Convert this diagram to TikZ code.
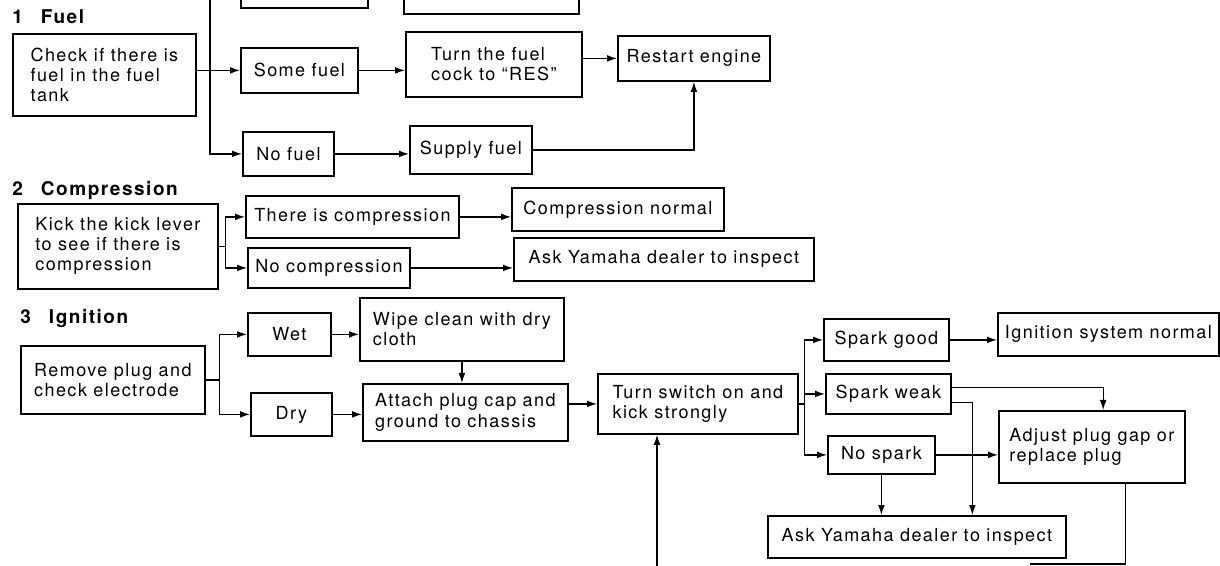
\documentclass[tikz,border=0pt]{standalone}
\usepackage{fontspec}
\setmainfont{TeX Gyre Heros}[LetterSpace=8]
\usetikzlibrary{arrows.meta, positioning, calc}

\begin{document}
\begin{tikzpicture}[x=0.5pt, y=-0.5pt,
    every node/.style={font=\fontsize{9}{10}\selectfont},
    box/.style={draw, line width=0.9pt, align=left, anchor=north west, inner sep=2pt},
    head/.style={anchor=west, inner sep=0pt, font=\fontsize{9.5}{11}\selectfont\bfseries},
    arr/.style={line width=0.65pt, -{Latex[length=5pt, width=3.4pt]}},
    wire/.style={line width=0.65pt}]

    \clip (0,0) rectangle (1220,566);
    \useasboundingbox (0,0) rectangle (1220,566);

    % 1 Fuel
    \node[head] (fuelhd) at (12,17) {1\hspace{9pt}Fuel};
    \node[box, minimum width=63.5pt, minimum height=25pt, anchor=south west] (fueltopA) at (240,9) {};
    \node[box, minimum width=87.5pt, minimum height=30pt, anchor=south west] (fueltopB) at (403,15) {};
    \node[box, minimum width=91.5pt, minimum height=41pt] (fuelchk) at (12,33) {Check if there is\\fuel in the fuel\\tank};
    \node[box, minimum width=58.5pt, minimum height=22.5pt] (somefuel) at (240,47) {Some fuel};
    \node[box, minimum width=45.5pt, minimum height=22pt] (nofuel) at (242,131) {No fuel};
    \node[box, minimum width=88pt, minimum height=32.5pt] (rescock) at (405,31) {Turn the fuel\\cock to ``RES''};
    \node[box, minimum width=76pt, minimum height=22.5pt] (restart) at (617,35) {Restart engine};
    \node[box, minimum width=61pt, minimum height=24pt] (supply) at (409,125) {Supply fuel};

    \coordinate (fueljn) at (210,-10);
    \draw[arr] (fuelchk.east |- somefuel) -- (somefuel.west);
    \draw[arr] (fueljn) |- (nofuel.west);
    \draw[arr] (somefuel.east) -- (somefuel.east -| rescock.west);
    \draw[arr] (rescock.east |- restart) -- (restart.west);
    \draw[arr] (nofuel.east) -- (nofuel.east -| supply.west);
    \draw[arr] (supply.east) -| (restart.south);

    % 2 Compression
    \node[head] (comphd) at (12,190) {2\hspace{9pt}Compression};
    \node[box, minimum width=100pt, minimum height=42.5pt] (kick) at (17,203) {Kick the kick lever\\to see if there is\\compression};
    \node[box, minimum width=106.5pt, minimum height=21pt] (comp) at (245,195) {There is compression};
    \node[box, minimum width=81pt, minimum height=20pt] (nocomp) at (247,247) {No compression};
    \node[box, minimum width=106pt, minimum height=21.5pt] (compok) at (511,187) {Compression normal};
    \node[box, minimum width=150pt, minimum height=21.5pt] (dealerA) at (513,237) {Ask Yamaha dealer to inspect};

    \draw[wire] (kick.east) -- ++(7,0) coordinate (kickjn);
    \draw[arr] (kickjn) |- (comp.west);
    \draw[arr] (kickjn) |- (nocomp.west);
    \draw[arr] (comp.east) -- (comp.east -| compok.west);
    \draw[arr] (nocomp.east) -- (nocomp.east -| dealerA.west);

    % 3 Ignition
    \node[head] (ignhd) at (20,318) {3\hspace{9pt}Ignition};
    \node[box, minimum width=92pt, minimum height=34pt] (plug) at (20,345) {Remove plug and\\check electrode};
    \node[box, minimum width=41.5pt, minimum height=21.5pt] (wet) at (247,312) {Wet};
    \node[box, minimum width=40.5pt, minimum height=21.5pt] (dry) at (250,392) {Dry};
    \node[box, minimum width=102pt, minimum height=31.5pt] (wipe) at (359,297) {Wipe clean with dry\\cloth};
    \node[box, minimum width=102.5pt, minimum height=28.5pt] (attach) at (362,383) {Attach plug cap and\\ground to chassis};
    \node[box, minimum width=100pt, minimum height=30pt] (kickon) at (597,373) {Turn switch on and\\kick strongly};
    \node[box, minimum width=62.5pt, minimum height=21pt] (sgood) at (823,318) {Spark good};
    \node[box, minimum width=110.5pt, minimum height=21.5pt, inner xsep=0.5pt] (ignok) at (997,312) {Ignition system normal};
    \node[box, minimum width=62.5pt, minimum height=20pt] (sweak) at (825,373) {Spark weak};
    \node[box, minimum width=53.5pt, minimum height=19pt] (nospark) at (827,435) {No spark};
    \node[box, minimum width=93pt, minimum height=36pt] (adjust) at (998,410) {Adjust plug gap or\\replace plug};
    \node[box, minimum width=149pt, minimum height=21pt] (dealerB) at (767,515) {Ask Yamaha dealer to inspect};

    \draw[wire] (plug.east) -- ++(14,0) coordinate (plugjn);
    \draw[arr] (plugjn) |- (wet.west);
    \draw[arr] (plugjn) |- (dry.west);
    \draw[arr] (wet.east) -- (wet.east -| wipe.west);
    \draw[arr] (dry.east) -- (dry.east -| attach.west);
    \draw[arr] (wipe.south) -- (wipe.south |- attach.north);
    \draw[arr] (attach.east |- kickon) -- (kickon.west);
    \draw[wire] (kickon.east) -- ++(6,0) coordinate (kickonjn);
    \draw[arr] (kickonjn) |- (sgood.west);
    \draw[arr] (kickonjn) |- (sweak.west);
    \draw[arr] (kickonjn) |- (nospark.west);
    \draw[arr] (sgood.east) -- (sgood.east -| ignok.west);
    \draw[arr] ($(sweak.north east)!0.35!(sweak.south east)$) -| ($(adjust.north west)!0.56!(adjust.north east)$);
    \draw[arr] ($(sweak.north east)!0.7!(sweak.south east)$) -| ($(dealerB.north west)!0.685!(dealerB.north east)$);
    \draw[arr] (nospark.east) -- (nospark.east -| adjust.west);
    \draw[arr] (nospark.south) -- (nospark.south |- dealerB.north);
    \coordinate (loopend) at (1030,564);
    \draw[wire] ($(adjust.south west)!0.68!(adjust.south east)$) |- (loopend);
    \coordinate (loopstart) at (657,572);
    \draw[arr] (loopstart) -- (loopstart |- kickon.south);

\end{tikzpicture}
\end{document}
